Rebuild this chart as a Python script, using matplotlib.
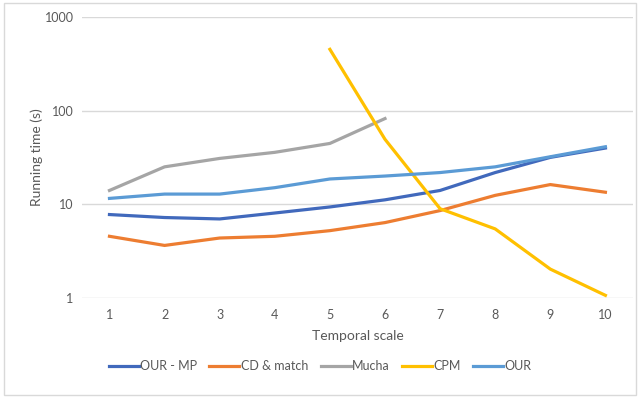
import matplotlib
matplotlib.use("Agg")
import matplotlib.pyplot as plt
from matplotlib.patches import Rectangle

# running times per temporal scale
scales = [1, 2, 3, 4, 5, 6, 7, 8, 9, 10]
our_mp = [7.8, 7.25, 7.0, 8.1, 9.4, 11.2, 14.1, 21.9, 31.8, 40.0]
cd_match = [4.57, 3.65, 4.38, 4.57, 5.25, 6.4, 8.6, 12.5, 16.3, 13.5]
mucha_x = [1, 2, 3, 4, 5, 6]
mucha = [14.1, 25.2, 31.0, 36.0, 44.8, 82.6]
cpm_x = [5, 6, 7, 8, 9, 10]
cpm = [453, 49.6, 9.0, 5.48, 2.04, 1.07]
our = [11.6, 12.9, 12.9, 15.1, 18.7, 20.1, 21.9, 25.2, 32.3, 41.3]

plt.rcParams['font.family'] = ['Lato', 'DejaVu Sans']
grey = '#595959'

fig = plt.figure(figsize=(6.4, 3.98), dpi=100)
ax = fig.add_axes([0.128, 0.251, 0.861, 0.706])

lw = 2.3
ax.plot(scales, our_mp, color='#4169BC', lw=lw, label='OUR - MP')
ax.plot(scales, cd_match, color='#ED7D31', lw=lw, label='CD & match')
ax.plot(mucha_x, mucha, color='#A5A5A5', lw=lw, label='Mucha')
ax.plot(cpm_x, cpm, color='#FFC000', lw=lw, label='CPM')
ax.plot(scales, our, color='#5B9BD5', lw=lw, label='OUR')

ax.set_yscale('log')
ax.set_ylim(1, 1000)
ax.set_xlim(0.5, 10.5)
ax.set_xticks(scales)
ax.set_yticks([1, 10, 100, 1000])
ax.set_yticklabels(['1', '10', '100', '1000'])
ax.minorticks_off()
ax.grid(axis='y', color='#D9D9D9', lw=1)
ax.set_axisbelow(True)
for s in ax.spines.values():
    s.set_visible(False)
ax.tick_params(length=0, colors=grey, labelsize=9, pad=8)
ax.tick_params(axis='y', pad=6)

ax.set_xlabel('Temporal scale', color=grey, fontsize=10, labelpad=6)
ax.set_ylabel('Running time (s)', color=grey, fontsize=10, labelpad=1)

leg = fig.legend(loc='center', bbox_to_anchor=(0.5, 0.08), ncol=5, frameon=False,
                 fontsize=9, handlelength=2.4, handletextpad=0.1, columnspacing=1.0)
for t in leg.get_texts():
    t.set_color(grey)

fig.patches.append(Rectangle((0.006, 0.008), 0.988, 0.984, transform=fig.transFigure,
                             fill=False, edgecolor='#D9D9D9', lw=1))

fig.savefig('out.png', dpi=100)
